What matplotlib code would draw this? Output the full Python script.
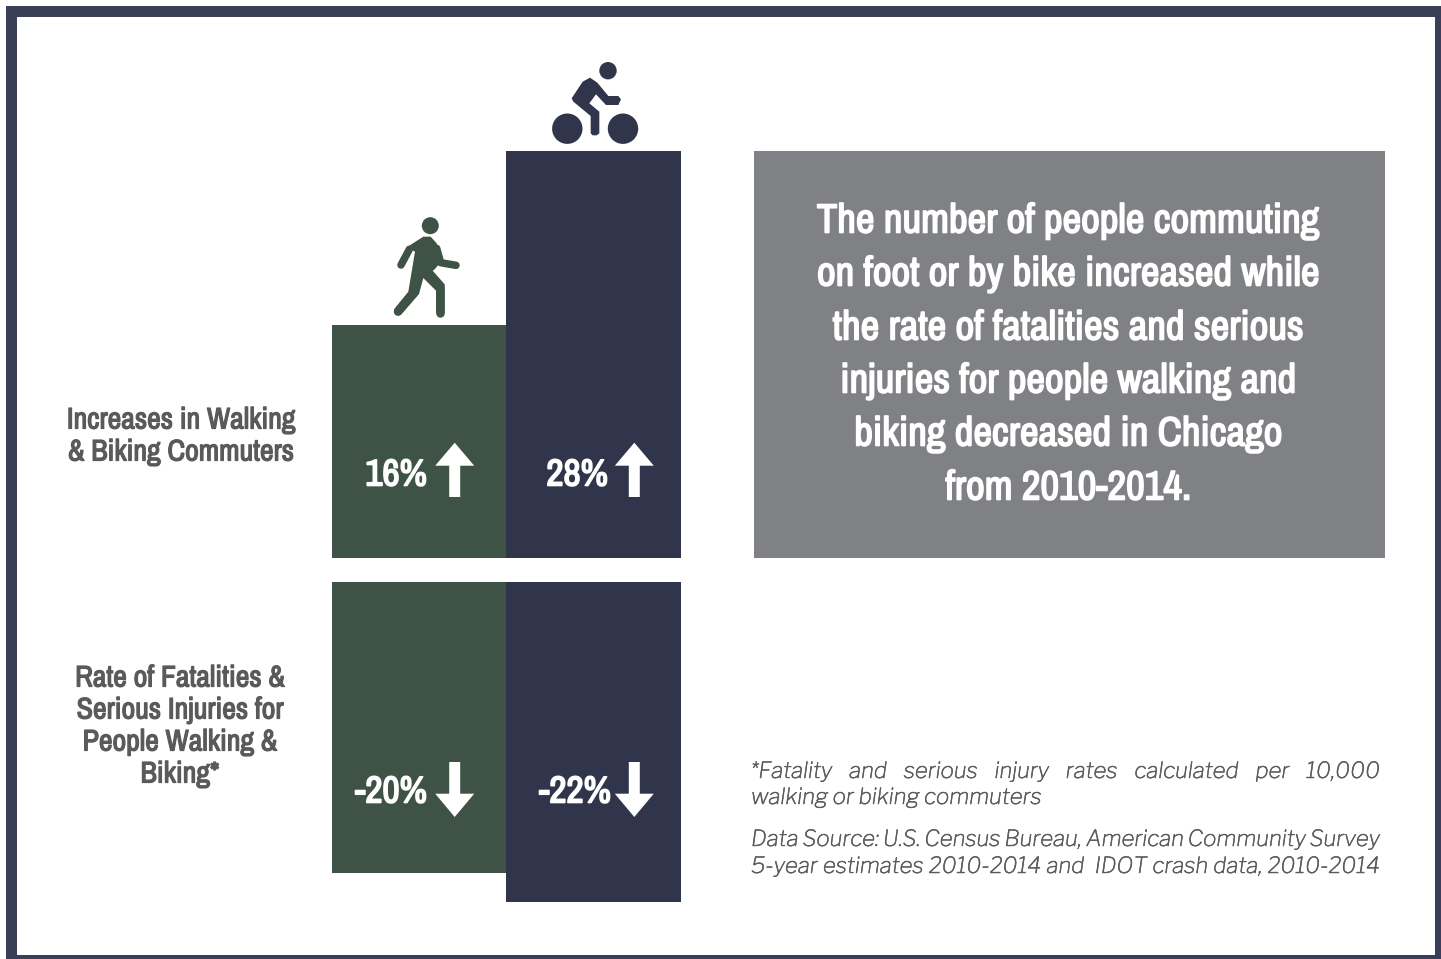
import matplotlib
matplotlib.use("Agg")
import matplotlib.pyplot as plt
import matplotlib.patheffects as pe
from matplotlib.patches import Polygon, Circle, Rectangle

W, H = 1441, 959
GREEN = "#3e5346"
NAVY = "#31354b"
FRAME = "#3b3e58"
GRAY = "#808184"
TEXT = "#595a5c"
HEAD = ["Archivo Narrow", "Liberation Sans"]
NOTE = ["Libre Franklin", "Open Sans"]

modes = ["Walking", "Biking"]
commuter_change = [16, 28]
injury_change = [-20, -22]
mode_colors = [GREEN, NAVY]

label_top = ["Increases in Walking", "& Biking Commuters"]
label_bottom = ["Rate of Fatalities &", "Serious Injuries for", "People Walking &", "Biking*"]
headline = [
    "The number of people commuting",
    "on foot or by bike increased while",
    "the rate of fatalities and serious",
    "injuries for people walking and",
    "biking decreased in Chicago",
    "from 2010-2014.",
]
notes = [
    ("*Fatality and serious injury rates calculated per 10,000", 770, True),
    ("walking or biking commuters", 796, False),
    ("Data Source: U.S. Census Bureau, American Community Survey", 838, True),
    ("5-year estimates 2010-2014 and  IDOT crash data, 2010-2014", 865, True),
]


def px_axes(fig, left, top, right, bottom):
    return fig.add_axes([left / W, 1 - bottom / H, (right - left) / W, (bottom - top) / H])


def draw_bars(ax, values):
    ax.bar(range(len(values)), values, width=1, color=mode_colors, linewidth=0)
    ax.set_xlim(-0.5, len(values) - 0.5)
    ax.axis("off")


def arrow(ax, cx, base, tip, head_y, color="white"):
    # block arrow, works both up and down
    ax.add_patch(Polygon([(cx - 5.5, base), (cx + 5.5, base), (cx + 5.5, head_y), (cx + 19.5, head_y),
                          (cx, tip), (cx - 19.5, head_y), (cx - 5.5, head_y)], color=color, lw=0))


def stroke(ax, pts, color, width):
    x, y = zip(*pts)
    ax.plot(x, y, color=color, lw=width * 0.72, solid_capstyle="round", solid_joinstyle="round")


def zoomed(pts, x0=340, y0=40):
    return [(x0 + a / 3, y0 + b / 3) for a, b in pts]


def walker(ax, c):
    ax.add_patch(Circle((430.3, 225.7), 8.5, color=c, lw=0))
    body = [(200, 622), (250, 590), (272, 590), (290, 610), (308, 660), (282, 690), (278, 692), (314, 733),
            (314, 820), (288, 820), (288, 752), (250, 714), (237, 762), (182, 825), (162, 808), (205, 755),
            (225, 635)]
    ax.add_patch(Polygon(zoomed(body), color=c, lw=0))
    stroke(ax, zoomed([(208, 628), (183, 675)]), c, 7.5)
    stroke(ax, zoomed([(290, 625), (302, 668), (348, 676)]), c, 7.5)
    stroke(ax, zoomed([(301, 740), (301, 818)]), c, 8.5)
    stroke(ax, zoomed([(225, 755), (174, 815)]), c, 8.5)


def cyclist(ax, c):
    ax.add_patch(Circle((608, 70.7), 8.7, color=c, lw=0))
    ax.add_patch(Circle((567.3, 128.7), 15.2, color=c, lw=0))
    ax.add_patch(Circle((623, 128.7), 15.2, color=c, lw=0))
    body = [(695, 175), (728, 125), (750, 113), (772, 128), (805, 168), (835, 168), (843, 178), (835, 195),
            (798, 195), (768, 163), (748, 190), (778, 215), (778, 280), (770, 286), (758, 286), (752, 280),
            (752, 228), (700, 185)]
    ax.add_patch(Polygon(zoomed(body), color=c, lw=0))


def heavy(ax, x, y, s, color, size, ha="center", lw=1.0):
    # the narrow family has no usable bold here, so thicken it with an outline
    t = ax.text(x, y, s, color=color, fontsize=size, family=HEAD, ha=ha, va="center")
    t.set_path_effects([pe.withStroke(linewidth=lw, foreground=color)])


def justified(ax, fig, s, x0, x1, y, stretch, **kw):
    # word by word so the line fills x0..x1
    r = fig.canvas.get_renderer()
    words = s.split(" ")
    arts = [ax.text(x0, y, w, va="baseline", ha="left", **kw) for w in words]
    widths = [a.get_window_extent(r).width for a in arts]
    if stretch and len(words) > 1:
        gap = (x1 - x0 - sum(widths)) / (len(words) - 1)
    else:
        space = ax.text(0, 0, "a a", **kw)
        only = ax.text(0, 0, "aa", **kw)
        gap = space.get_window_extent(r).width - only.get_window_extent(r).width
        space.remove()
        only.remove()
    x = x0
    for a, wd in zip(arts, widths):
        a.set_x(x)
        a.set_path_effects([pe.withStroke(linewidth=0.35, foreground=TEXT)])
        x += wd + gap


fig = plt.figure(figsize=(W / 100, H / 100), dpi=100, facecolor="white")

# bars share one scale, both panels drawn from the percentages
ax_top = px_axes(fig, 331.6, 151, 680.8, 558)
draw_bars(ax_top, commuter_change)
ax_top.set_ylim(0, 28)
ax_bot = px_axes(fig, 331.6, 582, 680.8, 902)
draw_bars(ax_bot, injury_change)
ax_bot.set_ylim(-22, 0)

# overlay in picture pixels for the frame, icons and text
ov = fig.add_axes([0, 0, 1, 1], zorder=5)
ov.set_xlim(0, W)
ov.set_ylim(H, 0)
ov.axis("off")

for rect in [(6, 6, W - 6, 11), (6, 6, 10.5, H - 6), (1435, 6, 6, H - 6), (6, 955, W - 6, 4)]:
    ov.add_patch(Rectangle(rect[:2], rect[2], rect[3], color=FRAME, lw=0))

ov.add_patch(Rectangle((754, 151), 631, 407, color=GRAY, lw=0))
for line, y in zip(headline, [221, 274, 328, 381, 434, 488]):
    heavy(ov, 1068.5, y, line, "white", 29.4, lw=1.2)

for line, y in zip(label_top, [420, 452]):
    heavy(ov, 181, y, line, TEXT, 21.5, lw=0.9)
for line, y in zip(label_bottom, [678, 710, 742, 774]):
    heavy(ov, 180, y, line, TEXT, 21.5, lw=0.9)

for v, right in zip(commuter_change, [427, 608]):
    heavy(ov, right, 475, f"{v}%", "white", 27, ha="right", lw=1.2)
for v, right in zip(injury_change, [427, 611]):
    heavy(ov, right, 792, f"{v}%", "white", 27, ha="right", lw=1.2)

for cx in [454.7, 634.3]:
    arrow(ov, cx, 497, 442.7, 465.7)
    arrow(ov, cx, 762, 817, 793.7)

walker(ov, GREEN)
cyclist(ov, NAVY)

fig.canvas.draw()
for s, y, stretch in notes:
    justified(ov, fig, s, 751, 1380, y + 8, stretch, color=TEXT, fontsize=16, style="italic", family=NOTE)

fig.savefig("out.png", dpi=100)
